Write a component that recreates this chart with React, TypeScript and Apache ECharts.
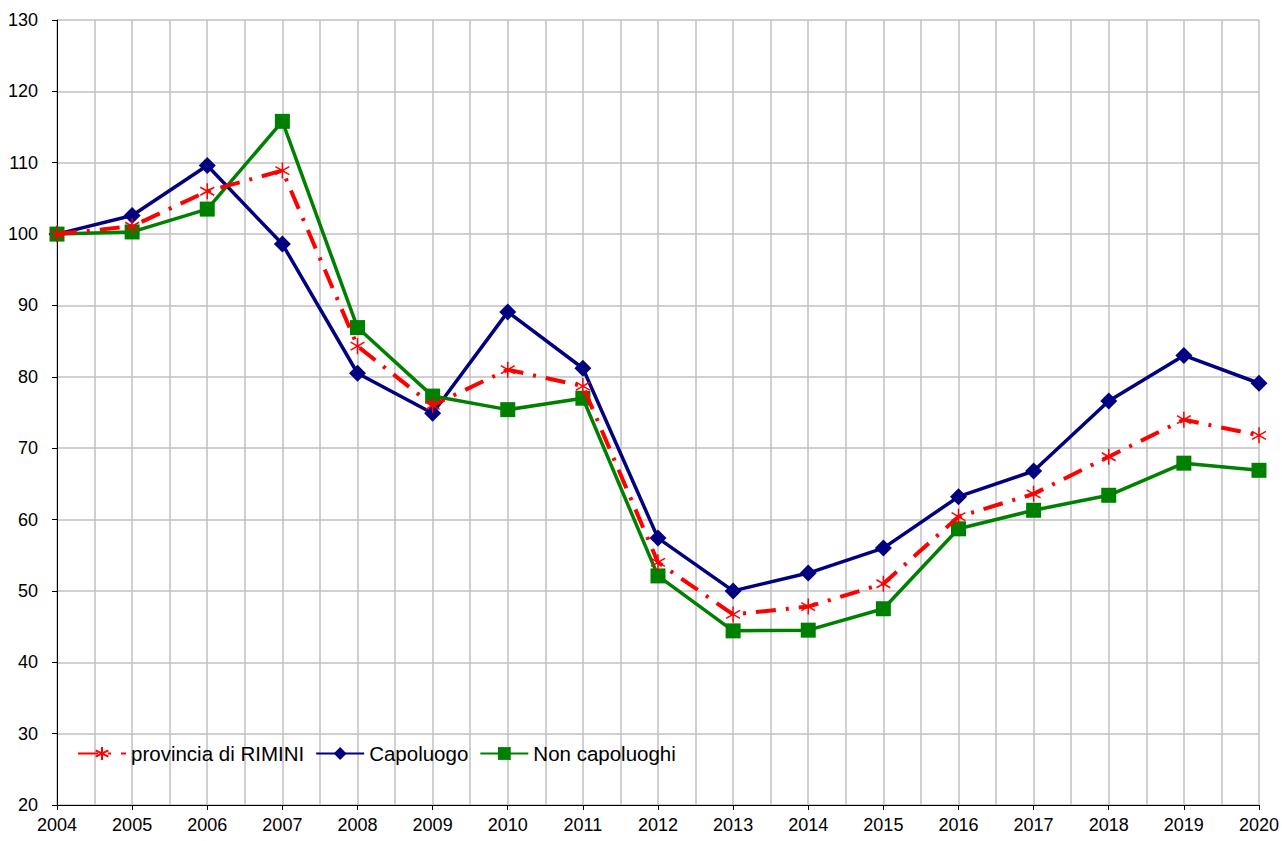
import React, { useEffect, useRef } from "react";
import * as echarts from "echarts";

const years = [2004, 2005, 2006, 2007, 2008, 2009, 2010, 2011, 2012, 2013, 2014, 2015, 2016, 2017, 2018, 2019, 2020];
const rimini = [100, 101.1, 106, 108.9, 84.3, 76, 81, 78.7, 54, 46.7, 47.8, 51, 60.4, 63.6, 68.8, 74, 71.8];
const capoluogo = [100, 102.6, 109.6, 98.6, 80.5, 74.9, 89.1, 81.2, 57.4, 50, 52.5, 56, 63.2, 66.8, 76.6, 83, 79.1];
const nonCapoluoghi = [100, 100.3, 103.5, 115.8, 86.9, 77.3, 75.4, 77, 52.1, 44.4, 44.5, 47.5, 58.7, 61.3, 63.4, 67.9, 66.9];

const seriesNames = ["provincia di RIMINI", "Capoluogo", "Non capoluoghi"];

const asterisk = "path://M0,-10L0,10M-8.66,-5L8.66,5M-8.66,5L8.66,-5";

export default function App() {
  const ref = useRef<HTMLDivElement>(null);
  useEffect(() => {
    if (!ref.current) return;
    const chart = echarts.init(ref.current, null, { renderer: "svg" });
    const pair = (arr: number[]) => years.map((y, i) => [y, arr[i]]);
    chart.setOption({
      animation: false,
      backgroundColor: "#ffffff",
      textStyle: { fontFamily: "Liberation Sans, Arial, sans-serif" },
      grid: { left: 57, right: 20, top: 20, bottom: 36, containLabel: false },
      legend: {
        left: 72,
        top: 738,
        itemWidth: 48,
        itemHeight: 16,
        itemGap: 11,
        textStyle: { fontSize: 20.5, color: "#000", fontFamily: "Liberation Sans, Arial, sans-serif" },
        data: seriesNames,
      },
      xAxis: {
        type: "value",
        min: 2004,
        max: 2020,
        interval: 1,
        axisLine: { show: true, onZero: false, lineStyle: { color: "#000", width: 1 } },
        axisTick: { show: true, length: 5, lineStyle: { color: "#000" } },
        minorTick: { show: false, splitNumber: 2 },
        minorSplitLine: { show: true, lineStyle: { color: "#c0c0c0", width: 1.5 } },
        splitLine: { show: true, lineStyle: { color: "#c0c0c0", width: 1.5 } },
        axisLabel: { fontSize: 18, color: "#000", margin: 11, formatter: (v: number) => String(v) },
      },
      yAxis: {
        type: "value",
        min: 20,
        max: 130,
        interval: 10,
        axisLine: { show: true, lineStyle: { color: "#000", width: 1 } },
        axisTick: { show: true, length: 5, lineStyle: { color: "#000" } },
        splitLine: { show: true, lineStyle: { color: "#c0c0c0", width: 1.5 } },
        axisLabel: { fontSize: 18, color: "#000", margin: 19 },
      },
      series: [
        {
          name: seriesNames[0],
          type: "line",
          data: pair(rimini),
          z: 3,
          symbol: asterisk,
          symbolSize: 16,
          symbolKeepAspect: true,
          lineStyle: { color: "#ff0000", width: 4, type: [20, 10, 3, 10] },
          itemStyle: { color: "#ff0000", borderColor: "#ff0000", borderWidth: 1.5 },
        },
        {
          name: seriesNames[1],
          type: "line",
          data: pair(capoluogo),
          z: 2,
          symbol: "diamond",
          symbolSize: 17,
          lineStyle: { color: "#000080", width: 3.5 },
          itemStyle: { color: "#000080" },
        },
        {
          name: seriesNames[2],
          type: "line",
          data: pair(nonCapoluoghi),
          z: 2,
          symbol: "rect",
          symbolSize: 15,
          lineStyle: { color: "#008000", width: 3.5 },
          itemStyle: { color: "#008000" },
        },
      ],
    });
    return () => chart.dispose();
  }, []);
  return <div ref={ref} style={{ position: "fixed", left: 0, top: 0, width: 1282, height: 841 }} />;
}
